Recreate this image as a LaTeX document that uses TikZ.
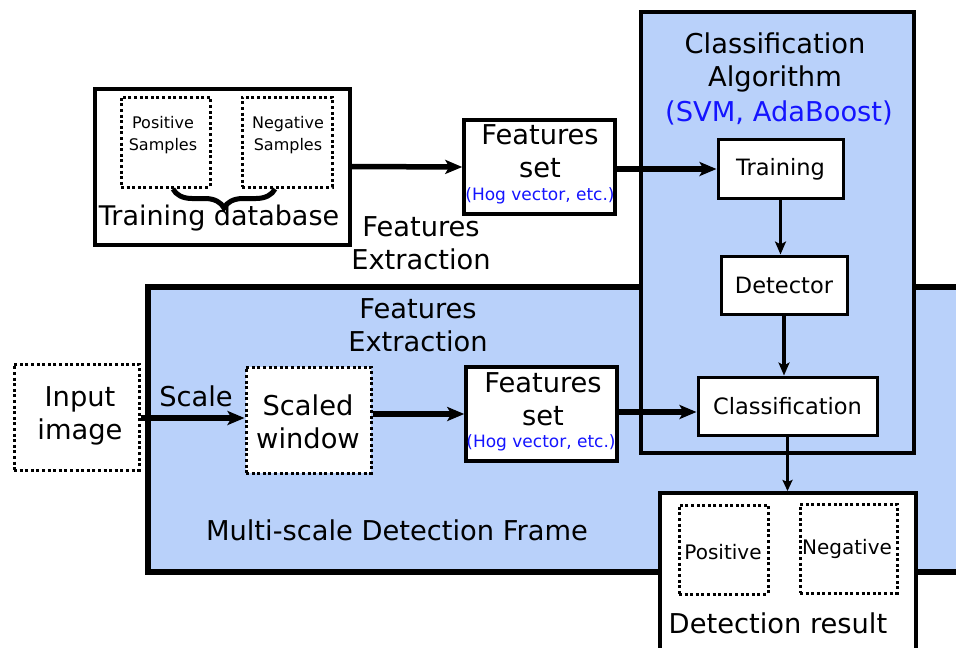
\documentclass[tikz,border=0pt]{standalone}
\usepackage{fontspec}
\setmainfont{DejaVu Sans}
\usetikzlibrary{arrows.meta,decorations.pathreplacing}
\definecolor{panel}{RGB}{185,209,250}
\definecolor{hogblue}{RGB}{20,20,255}
\begin{document}
\begin{tikzpicture}[x=1pt,y=-1pt,
  big/.style={font=\fontsize{27.3}{33}\selectfont, align=center, inner sep=0pt},
  mid/.style={font=\fontsize{22.5}{28}\selectfont, align=center, inner sep=0pt},
  small/.style={font=\fontsize{16}{22}\selectfont, align=center, inner sep=0pt},
  hog/.style={font=\fontsize{17}{20}\selectfont, text=hogblue, inner sep=0pt},
  panelbox/.style={draw, fill=panel, inner sep=0pt},
  whitebox/.style={draw, fill=white, inner sep=0pt},
  dotbox/.style={draw, fill=white, line width=3pt, dash pattern=on 3pt off 2.6pt, inner sep=0pt},
  arr/.style={line width=5.5pt, -{Stealth[length=17pt,width=14pt,inset=4pt]}},
  varr/.style={line width=3.5pt, -{Stealth[length=13pt,width=11pt,inset=3pt]}}
]
\clip (0,0) rectangle (956,648);
\fill[white] (0,0) rectangle (956,648);

% frames
\node[panelbox, line width=5.5pt, minimum width=842pt, minimum height=285pt] (frame) at (569,429.5) {};
\node[panelbox, line width=4pt, minimum width=273pt, minimum height=441pt] (algo) at (777.5,232.5) {};
\node[whitebox, line width=4pt, minimum width=256pt, minimum height=167pt] (dres) at (788,576.5) {};

% training database
\node[whitebox, line width=4pt, minimum width=255pt, minimum height=156pt] (tdb) at (222.5,166.5) {};
\node[dotbox, minimum width=89pt, minimum height=90pt] (pos1) at (165.5,142) {};
\node[dotbox, minimum width=90pt, minimum height=90pt] (neg1) at (287,142) {};
\node[small] (pos1t) at (163,135) {Positive\\Samples};
\node[small] (neg1t) at (288,135) {Negative\\Samples};
\draw[line width=5pt, decorate, decoration={brace, amplitude=19pt, mirror}] (173,189) -- (275,189);
\node[font=\fontsize{27}{33}\selectfont, inner sep=0pt] (tdbt) at (219,218) {Training database};

% features set (top)
\node[whitebox, line width=3.5pt, minimum width=151pt, minimum height=94pt] (fs1) at (539.5,167) {};
\node[big] (fs1t) at (540,151.5) {Features\\set};
\node[hog] (fs1h) at (540,196) {(Hog vector, etc.)};
\node[big] (fe1) at (421,243) {Features\\Extraction};

% classification algorithm
\node[big] (algot) at (775,62) {Classification\\Algorithm};
\node[big, text=hogblue] (algoh) at (779,113) {(SVM, AdaBoost)};
\node[whitebox, line width=3pt, minimum width=125pt, minimum height=59pt, mid] (train) at (780.5,169) {Training};
\node[whitebox, line width=3pt, minimum width=126pt, minimum height=58pt, mid] (det) at (784,285) {Detector};
\node[whitebox, line width=3pt, minimum width=179pt, minimum height=58pt, mid] (cls) at (787.5,406) {Classification};

% bottom row
\node[big] (fe2) at (418,325.5) {Features\\Extraction};
\node[dotbox, minimum width=125pt, minimum height=106pt] (inp) at (76.5,417) {};
\node[big] (inpt) at (80,415.5) {Input\\image};
\node[big] (scale) at (196,396) {Scale};
\node[dotbox, minimum width=125pt, minimum height=106pt] (sw) at (308.5,420) {};
\node[big] (swt) at (308,421.5) {Scaled\\window};
\node[whitebox, line width=3.5pt, minimum width=151pt, minimum height=94pt] (fs2) at (541.5,414) {};
\node[big] (fs2t) at (543,399.5) {Features\\set};
\node[hog] (fs2h) at (541,443) {(Hog vector, etc.)};
\node[big] (mst) at (397,530) {Multi-scale Detection Frame};

% detection result
\node[dotbox, minimum width=89pt, minimum height=89pt] (pos2) at (723.5,549.5) {};
\node[dotbox, minimum width=97pt, minimum height=89pt] (neg2) at (848.5,548.5) {};
\node[font=\fontsize{20}{24}\selectfont, inner sep=0pt] (pos2t) at (723,552) {Positive};
\node[font=\fontsize{20}{24}\selectfont, inner sep=0pt] (neg2t) at (847,549) {Negative};
\node[big] (drt) at (778,623) {Detection result};

% connectors
\draw[arr] (tdb.east) -- (fs1.west);
\draw[arr] (fs1.east |- train.west) -- (train.west);
\draw[varr] (train.south) -- (train.south |- det.north);
\draw[varr] (det.south) -- (det.south |- cls.north);
\draw[line width=3pt, -{Stealth[length=11pt,width=10pt,inset=2pt]}] (cls.south) -- (cls.south |- dres.north);
\draw[arr] (inp.east |- 0,418) -- (sw.west |- 0,418);
\draw[arr] (sw.east |- fs2.west) -- (fs2.west);
\draw[arr] (fs2.east |- 0,412) -- (cls.west |- 0,412);
\end{tikzpicture}
\end{document}
